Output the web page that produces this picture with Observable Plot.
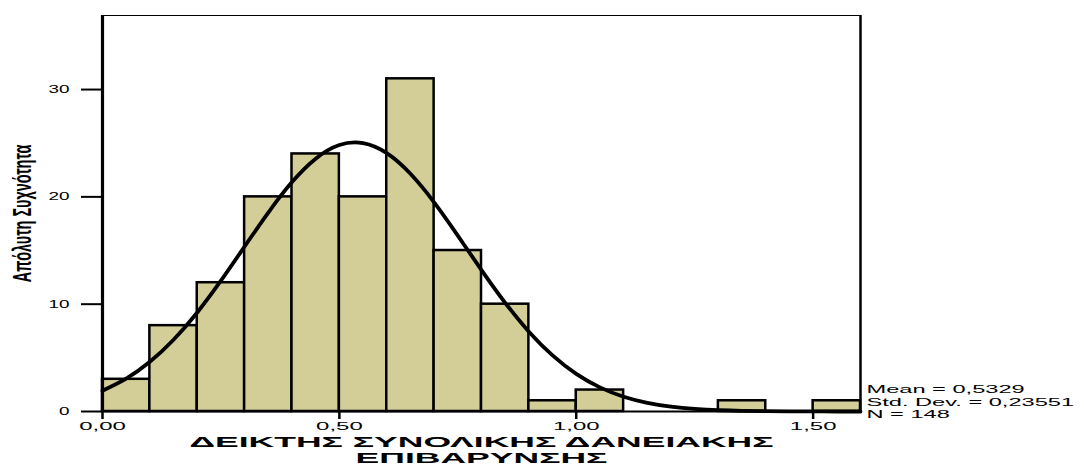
<!DOCTYPE html>
<html>
<head>
<meta charset="utf-8">
<script src="https://cdn.jsdelivr.net/npm/d3@7"></script>
<script src="https://cdn.jsdelivr.net/npm/@observablehq/plot@0.6"></script>
<style>
  html, body { margin: 0; padding: 0; background: #fff; }
  #chart svg { display: block; }
</style>
</head>
<body>
<div id="chart"></div>
<script>
// Histogram bins (lower edges) and counts
const binStart = [0.0, 0.1, 0.2, 0.3, 0.4, 0.5, 0.6, 0.7, 0.8, 0.9, 1.0, 1.1, 1.2, 1.3, 1.4, 1.5];
const counts   = [3, 8, 12, 20, 24, 20, 31, 15, 10, 1, 2, 0, 0, 1, 0, 1];
const binWidth = 0.1;

// Normal curve points
const curveX = [0.00,0.05,0.10,0.15,0.20,0.25,0.30,0.35,0.40,0.45,0.50,0.55,0.60,0.65,0.70,0.75,0.80,0.85,0.90,0.95,1.00,1.05,1.10,1.15,1.20,1.25,1.30,1.35,1.40,1.45,1.50,1.55,1.60];
const curveY = [1.94,3.06,4.63,6.69,9.23,12.19,15.38,18.54,21.38,23.56,24.83,25.0,24.07,22.15,19.49,16.39,13.18,10.13,7.44,5.23,3.51,2.25,1.38,0.81,0.45,0.24,0.12,0.06,0.03,0.01,0.005,0.002,0.001];

const xTicks = [0, 0.5, 1.0, 1.5];
const yTicks = [0, 10, 20, 30];
const xDomain = [0, 1.6];
const yDomain = [0, 36.9];

const xLabel = "ΔΕΙΚΤΗΣ ΣΥΝΟΛΙΚΗΣ ΔΑΝΕΙΑΚΗΣ\nΕΠΙΒΑΡΥΝΣΗΣ";
const yLabel = "Απόλυτη Συχνότητα";
const statsText = "Mean = 0,5329\nStd. Dev. = 0,23551\nN = 148";

const bars = binStart.map((x0, i) => ({x0, x1: x0 + binWidth, count: counts[i]})).filter(d => d.count > 0);
const curve = curveX.map((x, i) => ({x, y: curveY[i]}));

const chart = Plot.plot({
  width: 1084,
  height: 466,
  marginLeft: 102,
  marginRight: 224,
  marginTop: 15,
  marginBottom: 55,
  style: {fontFamily: "'Liberation Sans', Arial, sans-serif", color: "#000", background: "#fff"},
  x: {domain: xDomain, axis: null},
  y: {domain: yDomain, axis: null},
  marks: [
    Plot.rectY(bars, {x1: "x0", x2: "x1", y: "count", fill: "#d3ce98", stroke: "#000", strokeWidth: 2.5}),
    Plot.line(curve, {x: "x", y: "y", curve: "natural", stroke: "#000", strokeWidth: 3.8}),
    Plot.ruleY([yDomain[1]], {stroke: "#000", strokeWidth: 1.2}),
    Plot.ruleX([xDomain[1]], {stroke: "#000", strokeWidth: 2.5}),
    Plot.ruleY([0], {stroke: "#000", strokeWidth: 2.2}),
    Plot.ruleX([0], {stroke: "#000", strokeWidth: 3.2}),
    Plot.axisX({ticks: xTicks, tickFormat: d => d.toFixed(2).replace(".", ","), tickSize: 8, tickPadding: 3, strokeWidth: 2.5, fontSize: 10, label: null}),
    Plot.axisY({ticks: yTicks, tickSize: 21, tickPadding: 12, strokeWidth: 2, fontSize: 10.5, label: null}),
    Plot.text([xLabel], {frameAnchor: "bottom", lineAnchor: "top", dy: 24, fontWeight: "bold", fontSize: 15, lineHeight: 1.07, fill: "#000"}),
    Plot.text([yLabel], {frameAnchor: "left", rotate: -90, dx: -80, fontSize: 14, fontWeight: "bold", textAnchor: "middle", lineAnchor: "middle", fill: "#000"}),
    Plot.text([statsText], {frameAnchor: "bottom-right", textAnchor: "start", lineAnchor: "top", dx: 6, dy: -27, fontSize: 10.5, lineHeight: 1.19, fill: "#000"})
  ]
});

function stretch(el, sx, sy) {
  const x0 = +el.getAttribute("x") || 0, y0 = +el.getAttribute("y") || 0;
  const t = el.getAttribute("transform") || "";
  el.setAttribute("transform", `${t} translate(${x0},${y0}) scale(${sx},${sy}) translate(${-x0},${-y0})`);
}
const svg = d3.select(chart);
svg.selectAll("g[aria-label='x-axis tick label'] text").each(function() { stretch(this, 2.4, 1); });
svg.selectAll("g[aria-label='y-axis tick label'] text").each(function() { stretch(this, 1.8, 1); });
svg.selectAll("g[aria-label='text'] text").each(function() {
  const s = this.textContent;
  if (s.startsWith("Απόλυτη")) stretch(this, 1.03, 1.85);
  else if (s.startsWith("Mean")) stretch(this, 2.25, 1);
  else stretch(this, 2.37, 1);
});

document.getElementById("chart").appendChild(chart);
</script>
</body>
</html>
